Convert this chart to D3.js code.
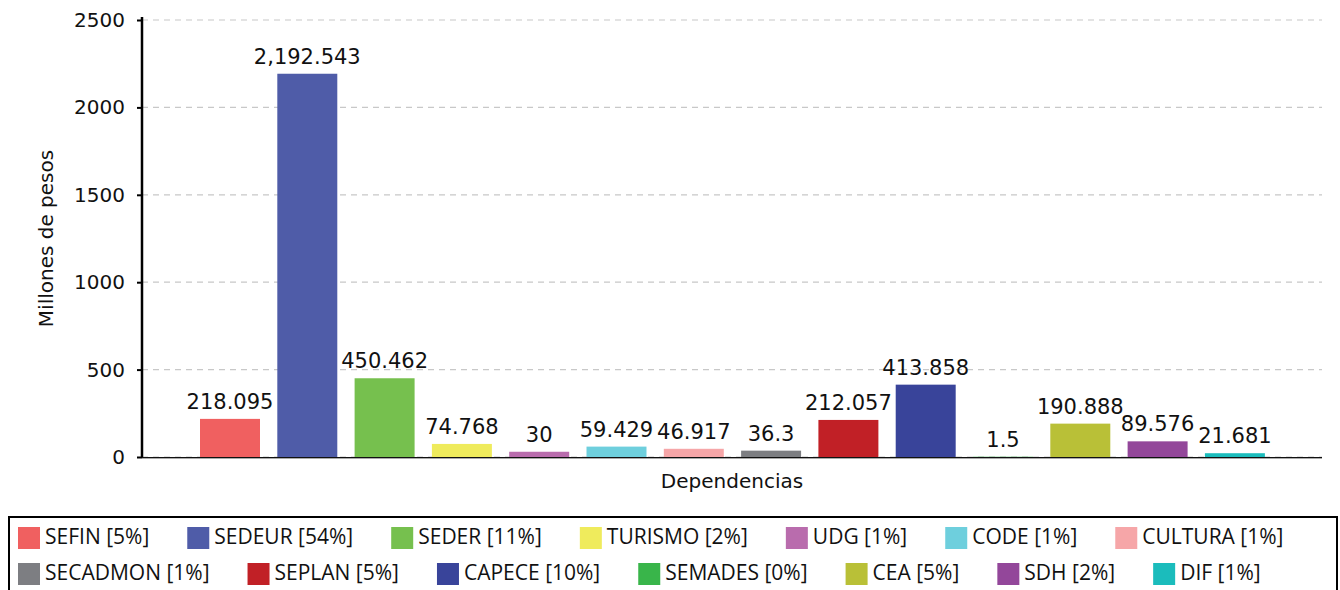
<!DOCTYPE html>
<html><head><meta charset="utf-8">
<script src="https://cdn.jsdelivr.net/npm/d3@7"></script>
<style>body{margin:0;background:#fff}svg{display:block}</style>
</head><body><svg id="c" width="1340" height="590"></svg>
<script>
const categories = ["SEFIN","SEDEUR","SEDER","TURISMO","UDG","CODE","CULTURA","SECADMON","SEPLAN","CAPECE","SEMADES","CEA","SDH","DIF"];
const values = [218.095,2192.543,450.462,74.768,30,59.429,46.917,36.3,212.057,413.858,1.5,190.888,89.576,21.681];
const percents = [5,54,11,2,1,1,1,1,5,10,0,5,2,1];
const colors = ["#f06060","#4f5ca8","#76c04e","#efeb5c","#b96cad","#6ecfdd","#f6a6a8","#7d7e82","#c12026","#39449a","#39b54a","#b9c037","#93479a","#1bbcbc"];
const yTicks = [0,500,1000,1500,2000,2500];

(function(){
const svg = d3.select("#c");
const font = "DejaVu Sans, sans-serif";
const pL = 142, pR = 1322, pT = 20, pB = 457;

const y = d3.scaleLinear().domain([0,2500]).range([pB, pT]);
const x = d3.scaleBand().domain(categories).range([191.35, 1273.55]).paddingInner(0.224).paddingOuter(0.112);

// gridlines
svg.append("g").selectAll("line").data(yTicks).join("line")
  .attr("x1", pL).attr("x2", pR)
  .attr("y1", d => y(d)).attr("y2", d => y(d))
  .attr("stroke", "#c8c8c8").attr("stroke-width", 1.2).attr("stroke-dasharray", "6,5");

// baseline shadow
svg.append("line").attr("x1", pL).attr("x2", pR).attr("y1", y(0)+1.5).attr("y2", y(0)+1.5)
  .attr("stroke", "#aaa").attr("stroke-width", 1);

// bars
svg.append("g").selectAll("rect").data(values).join("rect")
  .attr("x", (d,i) => x(categories[i]))
  .attr("width", x.bandwidth())
  .attr("y", d => y(d))
  .attr("height", d => y(0) - y(d))
  .attr("fill", (d,i) => colors[i]);

svg.append("line").attr("x1", pL).attr("x2", pR).attr("y1", y(0)+0.5).attr("y2", y(0)+0.5)
  .attr("stroke", "#111").attr("stroke-width", 1);

// value labels
const fmt = d3.format(",");
svg.append("g").selectAll("text").data(values).join("text")
  .attr("x", (d,i) => x(categories[i]) + x.bandwidth()/2)
  .attr("y", d => y(d) - 10)
  .attr("text-anchor", "middle")
  .attr("font-family", font).attr("font-size", 21).attr("fill", "#111")
  .text(d => fmt(d));

// y axis
const yAxis = d3.axisLeft(y).tickValues(yTicks).tickSize(5).tickPadding(12).tickFormat(d3.format("d"));
const ag = svg.append("g").attr("transform", `translate(${pL},0)`).call(yAxis);
ag.select(".domain").attr("stroke", "#000").attr("stroke-width", 2.5).attr("d", `M0,${pT-3}V${pB}`);
ag.selectAll(".tick line").attr("stroke", "#000").attr("stroke-width", 2);
ag.selectAll(".tick text").attr("font-family", font).attr("font-size", 20).attr("fill", "#111");

// axis titles
svg.append("text").attr("transform", `translate(53,${(pT+pB)/2}) rotate(-90)`)
  .attr("text-anchor", "middle").attr("font-family", font).attr("font-size", 20).attr("fill", "#111")
  .text("Millones de pesos");
svg.append("text").attr("x", (pL+pR)/2).attr("y", 488)
  .attr("text-anchor", "middle").attr("font-family", font).attr("font-size", 20).attr("fill", "#111")
  .text("Dependencias");

// legend
svg.append("rect").attr("x", 9).attr("y", 517).attr("width", 1328).attr("height", 80)
  .attr("fill", "none").attr("stroke", "#000").attr("stroke-width", 2);
const lg = svg.append("g");
const rows = [categories.slice(0,7), categories.slice(7)];
const lfont = "Open Sans, sans-serif";
rows.forEach((row, r) => {
  let cx = 18;
  const cy = 527 + r*36;
  row.forEach(name => {
    const i = categories.indexOf(name);
    lg.append("rect").attr("x", cx).attr("y", cy).attr("width", 22).attr("height", 22).attr("fill", colors[i]);
    const t = lg.append("text").attr("x", cx + 27).attr("y", cy + 17)
      .attr("font-family", lfont).attr("font-size", 21).attr("fill", "#111")
      .text(`${name} [${percents[i]}%]`);
    cx += 27 + t.node().getComputedTextLength() + 38;
  });
});
})();
</script></body></html>
